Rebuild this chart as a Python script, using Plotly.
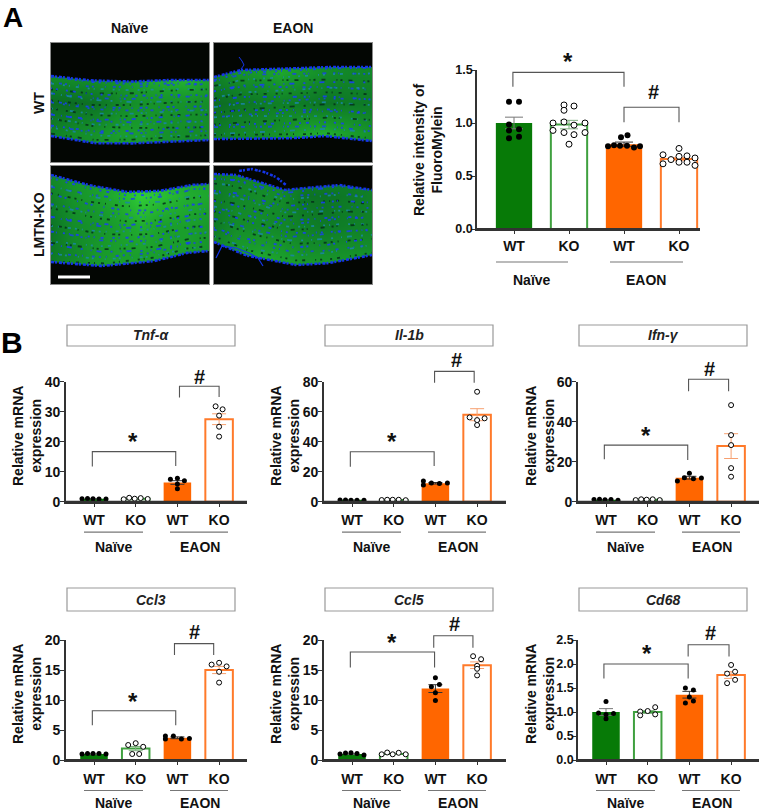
import numpy as np
import plotly.graph_objects as go

W, H = 762, 812
FONT = "Liberation Sans, Arial, sans-serif"
GREEN, ORANGE = "#077a07", "#ff6600"

# ---------- data: bar means / errors ----------
groups = ["WT", "KO", "WT", "KO"]
fluoro_mean = [1.0, 0.985, 0.80, 0.66]
fluoro_sem = [0.055, 0.04, 0.02, 0.015]
fluoro_wt_n = [1.2, 1.2, 0.985, 0.94, 0.93, 0.855, 0.87]
fluoro_ko_n = [1.17, 1.12, 1.16, 1.0, 1.01, 0.98, 1.0, 0.93, 0.91, 0.89, 0.91, 0.80]
fluoro_wt_e = [0.865, 0.885, 0.78, 0.79, 0.785, 0.785, 0.77, 0.78]
fluoro_ko_e = [0.70, 0.615, 0.655, 0.76, 0.685, 0.63, 0.69, 0.63, 0.67, 0.60]

tnf_mean = [1.0, 1.0, 6.4, 27.5]
tnf_sem = [0.05, 0.1, 0.6, 1.8]
tnf_pts = [[0.95, 1.1, 1.0, 0.9, 0.9], [0.8, 1.3, 1.0, 1.2, 0.9],
           [7.5, 7.8, 7.0, 5.9, 4.3], [31.8, 30.8, 28.7, 25.0, 21.7]]
il1b_mean = [1.0, 1.2, 12.3, 58.0]
il1b_sem = [0.05, 0.1, 0.5, 4.0]
il1b_pts = [[1.1, 1.1, 1.0, 1.0, 0.9], [1.1, 1.3, 1.3, 1.3, 1.0],
            [13.8, 11.1, 12.4, 12.2, 12.4], [73.3, 56.2, 54.4, 55.6, 51.1]]
ifng_mean = [1.0, 1.0, 12.0, 27.8]
ifng_sem = [0.08, 0.1, 0.7, 6.2]
ifng_pts = [[1.1, 1.2, 1.0, 1.1, 0.7], [0.8, 1.2, 1.0, 1.2, 0.8],
            [10.3, 12.0, 14.2, 11.5, 11.8], [48.3, 33.3, 28.3, 16.8, 12.5]]
ccl3_mean = [1.0, 1.9, 3.7, 15.0]
ccl3_sem = [0.03, 0.35, 0.15, 0.6]
ccl3_pts = [[1.0, 1.1, 1.1, 1.1, 1.0], [2.5, 2.8, 2.2, 1.0, 1.0],
            [4.0, 3.5, 4.0, 3.5, 3.6], [15.9, 16.2, 15.6, 14.7, 12.9]]
ccl5_mean = [1.0, 1.0, 11.9, 15.8]
ccl5_sem = [0.06, 0.06, 0.65, 0.55]
ccl5_pts = [[1.0, 1.15, 1.2, 1.1, 0.85], [0.95, 1.25, 0.95, 1.2, 0.95],
            [13.7, 12.6, 12.2, 11.2, 9.9], [17.3, 16.8, 15.7, 15.2, 14.1]]
cd68_mean = [1.0, 1.0, 1.36, 1.77]
cd68_sem = [0.07, 0.03, 0.07, 0.07]
cd68_pts = [[1.22, 0.98, 0.95, 0.97, 0.86], [1.01, 1.02, 1.10, 0.93, 0.95],
            [1.5, 1.46, 1.31, 1.19, 1.23], [1.98, 1.80, 1.84, 1.6, 1.67]]

# ---------- style: scatter spread in px ----------
row = [-12, -6.5, -1, 5, 12]
fluoro_off = [[-5, 5, -5, 5, -5, -5, 5],
              [-5, -5, 5, -16, -5, 5, 16, -16, -5, 5, 16, 0],
              [-3, 3.5, -16, -10, -4, 3, 10, 16],
              [-16, -16, -8, 0, 0, 0, 8, 8, 16, 16]]
tnf_off = [row, row, [-7, 0, 7, 0, 0], [-3.5, 3.5, 0, 0, 0]]
il1b_off = [row, row, [-12, -12, -4, 4, 12], [0, -7.5, 0, 7.5, 0]]
ifng_off = [row, row, [-12, -5, 0, 4, 12], [0, 0, 0, 0, 0]]
ccl3_off = [row, [-7.5, 0, 7.5, -3.5, 3.5], [-12, -12, -4, 4, 12], [-7.5, 0, 7.5, 0, 0]]
ccl5_off = [row, row, [0, 4, -4, 0, 0], [-4, 4, 0, 0, 0]]
cd68_off = [[0, -7.5, 0, 7.5, 0], [-7.5, 0, 7.5, -7.5, 7.5], [-4, 4, 0, -4, 4], [0, -4, 4, -4, 4]]

xf = lambda p: p / W
yf = lambda p: 1 - p / H

fig = go.Figure()
shapes, annos = [], []
layout_axes = {}
axis_n = [0]


def text(x, y, s, size=14, angle=0, italic=False, color="#111"):
    body = f"<b>{s}</b>"
    if italic:
        body = f"<i>{body}</i>"
    annos.append(dict(x=xf(x), y=yf(y), xref="paper", yref="paper", text=body, showarrow=False,
                      textangle=angle, xanchor="center", yanchor="middle",
                      font=dict(family=FONT, size=size, color=color)))


def new_axes(x0, x1, y_top, y_bot):
    axis_n[0] += 1
    n = axis_n[0]
    sfx = "" if n == 1 else str(n)
    return n, sfx, dict(domain=[xf(x0), xf(x1)], anchor=f"y{sfx}"), dict(domain=[yf(y_bot), yf(y_top)], anchor=f"x{sfx}")


def bar_panel(L, R, c0, s, y_bot, y_top, ymax, dtick, fmt, means, sems, pts, offs, brackets,
              star, sharp, ylab_x, ylab_y, ylab, tick_y, line_y, group_y, line_spans, group_xs,
              msize, title=None, box=None):
    n, sfx, xa, ya = new_axes(L, R, y_top, y_bot)
    xa.update(range=[(L - c0) / s, (R - c0) / s], tickmode="array", tickvals=[0, 1, 2, 3], ticktext=[f"<b>{g}</b>" for g in groups],
              showline=True, linecolor="#333", linewidth=1.6, ticks="outside", ticklen=3, tickwidth=1.2, tickcolor="#333",
              ticklabelstandoff=int(round(tick_y - y_bot - 18)), showgrid=False, zeroline=False,
              tickfont=dict(family=FONT, size=14, color="#111"))
    ya.update(range=[0, ymax], dtick=dtick, tickformat=fmt, showline=True, linecolor="#333", linewidth=1.6,
              ticks="outside", ticklen=4, tickwidth=1.4, tickcolor="#333", showgrid=False, zeroline=False,
              ticklabelstandoff=-4 if fmt != "d" else -3,
              tickprefix="<b>", ticksuffix="</b>", tickfont=dict(family=FONT, size=12.5 if fmt != "d" else 14, color="#111"))
    layout_axes[f"xaxis{sfx}"] = xa
    layout_axes[f"yaxis{sfx}"] = ya
    ax = dict(xaxis=f"x{sfx}", yaxis=f"y{sfx}", showlegend=False, hoverinfo="skip")
    fills = [GREEN, "white", ORANGE, "white"]
    edges = [GREEN, "#3fa03f", ORANGE, "#ff7a2a"]
    errs = ["#777", "#7faf7f", "#333", "#f7a070"]
    for k in range(4):
        fig.add_trace(go.Bar(x=[k], y=[means[k]], width=0.66, marker=dict(color=fills[k], line=dict(color=edges[k], width=2 if k % 2 else 0)),
                             error_y=dict(type="data", array=[sems[k]], color=errs[k], thickness=1, width=9 if msize > 5 else 7), **ax))
    for k in range(4):
        open_pt = k % 2 == 1
        fig.add_trace(go.Scatter(x=[k + o / s for o in offs[k]], y=pts[k], mode="markers", cliponaxis=False,
                                 marker=dict(size=msize, color="white" if open_pt else "black", line=dict(color="black", width=1 if open_pt else 0)), **ax))
    px_x = lambda v: c0 + v * s
    px_y = lambda v: y_bot - v / ymax * (y_bot - y_top)
    # baseline over the outlined bars' lower edges
    shapes.append(dict(type="line", xref="paper", yref="paper", layer="above", x0=xf(L), x1=xf(R), y0=yf(y_bot), y1=yf(y_bot),
                       line=dict(color="#333", width=1.8)))
    for xa0, ya0, xa1, yt, ya2 in brackets:
        path = (f"M {xf(px_x(xa0))} {yf(px_y(ya0))} L {xf(px_x(xa0))} {yf(px_y(yt))} "
                f"L {xf(px_x(xa1))} {yf(px_y(yt))} L {xf(px_x(xa1))} {yf(px_y(ya2))}")
        shapes.append(dict(type="path", xref="paper", yref="paper", path=path, line=dict(color="#555", width=1.1)))
    text(star[0], star[1] + 4, "*", 24)
    text(sharp[0], sharp[1], "#", 20)
    text(ylab_x, ylab_y, ylab, 14, -90)
    labels = ["Naïve", "EAON"]
    for i in range(2):
        shapes.append(dict(type="line", xref="paper", yref="paper", x0=xf(line_spans[i][0]), x1=xf(line_spans[i][1]),
                           y0=yf(line_y), y1=yf(line_y), line=dict(color="#777", width=1.2)))
        text(group_xs[i], group_y, labels[i], 14)
    if title:
        shapes.append(dict(type="rect", xref="paper", yref="paper", x0=xf(box[0]), x1=xf(box[1]), y0=yf(box[2]), y1=yf(box[3]),
                           line=dict(color="#999", width=1.2), fillcolor="white"))
        text((box[0] + box[1]) / 2, (box[2] + box[3]) / 2, title, 14, italic=True, color="#222")


YL = "Relative mRNA<br>expression"

bar_panel(477, 700, 514, 55, 229, 70, 1.5, 0.5, ".1f", fluoro_mean, fluoro_sem,
          [fluoro_wt_n, fluoro_ko_n, fluoro_wt_e, fluoro_ko_e], fluoro_off,
          [(-0.02, 1.343, 2.0, 1.478, 1.343), (2.0, 1.007, 3.0, 1.148, 1.007)],
          (568, 58), (653, 92), 428, 150, "Relative intensity of<br>FluoroMylein", 247, 262, 280,
          [(496, 568), (610, 683)], (532, 646), 6)

cols = [(66, 247, 94, 41.7), (324, 506, 352, 41.7), (578, 759, 606, 41.7)]
panels = [
    ("Tnf-α", 40, 10, "d", tnf_mean, tnf_sem, tnf_pts, tnf_off,
     [(-0.04, 11.7, 1.96, 16.7, 11.9), (2.05, 34.7, 3.0, 38.5, 34.9)], (133, 438), (199, 377)),
    ("Il-1b", 80, 20, "d", il1b_mean, il1b_sem, il1b_pts, il1b_off,
     [(-0.04, 23.3, 1.97, 33.3, 23.8), (1.98, 79.3, 2.93, 86.9, 79.3)], (392, 438), (456, 360)),
    ("Ifn-γ", 60, 20, "d", ifng_mean, ifng_sem, ifng_pts, ifng_off,
     [(-0.04, 21.2, 1.96, 28.3, 20.8), (1.98, 55.2, 2.94, 61.2, 55.2)], (646, 431), (709, 369)),
    ("Ccl3", 20, 5, "d", ccl3_mean, ccl3_sem, ccl3_pts, ccl3_off,
     [(-0.04, 5.8, 1.96, 8.2, 5.8), (1.93, 17.5, 2.87, 19.4, 17.5)], (133, 697), (194, 632)),
    ("Ccl5", 20, 5, "d", ccl5_mean, ccl5_sem, ccl5_pts, ccl5_off,
     [(-0.04, 15.4, 1.98, 18.0, 15.4), (1.96, 18.7, 2.9, 20.7, 18.7)], (392, 638), (454, 624)),
    ("Cd68", 2.5, 0.5, ".1f", cd68_mean, cd68_sem, cd68_pts, cd68_off,
     [(-0.05, 1.70, 1.97, 2.0, 1.70), (1.97, 2.155, 2.95, 2.40, 2.155)], (647, 649), (710, 633)),
]
boxes_y = [(325, 346), (588, 611)]
rows = [(501.7, 381.7), (760, 640)]
for i, p in enumerate(panels):
    r, c = divmod(i, 3)
    L, R, c0, s = cols[c]
    yb, yt = rows[r]
    bar_panel(L, R, c0, s, yb, yt, p[1], p[2], p[3], p[4], p[5], p[6], p[7], p[8], p[9], p[10],
              L - 39 + (1 if c == 2 else 0), 436 if r == 0 else 694, YL, yb + 19.5, yb + 30.5, yb + (45.5 if r == 0 else 42.5),
              [(L + 18, L + 77), (L + 104, L + 162)], (L + 48, L + 134), 5, title=p[0],
              box=(L + 1, L + 169, *boxes_y[r]))

# ---------- micrographs: outlines ----------
img_x = [0, 22, 45, 67, 90, 112, 135, 158]
img_y = [0, 30, 60, 90, 119]
images = [
    dict(rect=(51, 209, 43, 162),
         top=([0, 32, 75, 108, 158], [33, 37, 39, 37, 37]),
         bot=([0, 40, 75, 108, 158], [93, 100, 100.7, 99, 97]),
         z=[[.5, .5, .5, .5, .6, .6, .6, .6],
            [.55, .6, .6, .65, .75, .85, .9, .75],
            [.3, .3, .35, .5, .6, .6, .6, .55],
            [.45, .55, .6, .7, .7, .6, .55, .55],
            [.5, .5, .6, .6, .6, .6, .6, .6]],
         levels=[.04, .09, .14, .19, .23, .28, .33, .38, .43, .47, .52, .56, .61, .66, .7, .75, .8, .84, .89, .94]),
    dict(rect=(214, 372, 43, 162),
         top=([0, 25, 70, 110, 158], [34, 27, 26, 24, 24]),
         bot=([0, 30, 85, 110, 158], [96, 96, 95, 93, 98]),
         z=[[.5, .6, .65, .65, .65, .55, .5, .5],
            [.45, .6, .65, .75, .65, .55, .5, .5],
            [.3, .35, .4, .45, .4, .35, .4, .4],
            [.4, .5, .55, .6, .75, .8, .7, .6],
            [.4, .4, .5, .6, .7, .6, .5, .5]],
         levels=[.03, .08, .12, .17, .22, .27, .31, .36, .41, .46, .5, .55, .6, .64, .69, .74, .79, .84, .9, .95]),
    dict(rect=(51, 209, 166, 284),
         top=([0, 32, 75, 108, 140, 158], [9, 18, 26, 25, 19, 18]),
         bot=([0, 50, 100, 135, 158], [96, 100, 96, 87, 85]),
         z=[[.55, .65, .7, .75, .8, .8, .7, .7],
            [.45, .6, .7, .8, 1.0, .9, .8, .75],
            [.35, .55, .6, .7, .8, .7, .7, .65],
            [.4, .5, .65, .7, .7, .7, .7, .6],
            [.5, .6, .7, .75, .75, .6, .6, .6]],
         levels=[.05, .1, .15, .2, .26, .31, .36, .41, .46, .5, .55, .6, .64, .69, .74, .79, .83, .88, .92, .96]),
    dict(rect=(214, 372, 166, 284),
         top=([0, 22, 45, 70, 100, 125, 158], [8, 9, 16, 24, 21, 19, 24]),
         bot=([0, 30, 80, 110, 158], [76, 89, 99, 98, 89]),
         z=[[.4, .45, .5, .55, .5, .5, .45, .45],
            [.4, .5, .55, .55, .35, .35, .4, .45],
            [.4, .55, .55, .5, .45, .4, .45, .45],
            [.55, .7, .75, .7, .6, .6, .6, .6],
            [.6, .8, .85, .85, .8, .75, .7, .7]],
         levels=[.04, .09, .13, .18, .22, .27, .31, .36, .41, .46, .5, .54, .58, .63, .68, .72, .77, .83, .88, .94]),
]
# stray fibres and debris in the EAON micrographs
fibre_wt_eaon = ([25, 28, 30, 27], [14, 18, 22, 26])
debris_ko_eaon = ([25, 38, 50, 62, 72], [5, 3, 6, 11, 19])
fibre_ko_eaon = ([2, 8, 22, 35, 44, 49], [92, 80, 82, 87, 92, 100])
scale_bar = ([7, 39], [111, 111])

cscale = [[0, "#07401a"], [0.4, "#0e7a26"], [0.7, "#1a9e2c"], [1, "#30cc36"]]
dash_cycle = ["2px,5px,1px,9px,3px,4px", "1px,7px,3px,3px,2px,11px", "3px,9px,2px,4px,1px,6px",
              "2px,3px,1px,13px,4px,7px", "1px,4px,2px,8px,2px,5px,3px,10px", "4px,11px,1px,3px,2px,6px",
              "2px,8px,1px,5px,5px,9px"]
speck_colours = ["#1a3cff", "#1a44e8", "#1a86a8", "#04301a"]
streak_tilts = [.03, -.02, .015, -.035, .025, -.01, .04, -.025, .01]
for idx, im in enumerate(images):
    x0, x1, y0, y1 = im["rect"]
    n, sfx, xa, ya = new_axes(x0, x1, y0, y1)
    xa.update(range=[0, x1 - x0], visible=True, showticklabels=False, ticks="", showgrid=False, zeroline=False,
              showline=True, mirror=True, linecolor="#8a8a8a", linewidth=1)
    ya.update(range=[y1 - y0, 0], visible=True, showticklabels=False, ticks="", showgrid=False, zeroline=False,
              showline=True, mirror=True, linecolor="#8a8a8a", linewidth=1)
    layout_axes[f"xaxis{sfx}"] = xa
    layout_axes[f"yaxis{sfx}"] = ya
    ax = dict(xaxis=f"x{sfx}", yaxis=f"y{sfx}", showlegend=False, hoverinfo="skip")
    fig.add_trace(go.Heatmap(x=img_x, y=img_y, z=im["z"], zmin=0, zmax=1, zsmooth="best", colorscale=cscale, showscale=False, **ax))
    xs = np.linspace(0, x1 - x0, 30)
    tp = np.interp(xs, *im["top"])
    bt = np.interp(xs, *im["bot"])
    h = y1 - y0
    for j, f in enumerate(im["levels"]):
        tilt = streak_tilts[(j + idx) % len(streak_tilts)]
        ys = tp + (f + tilt * (xs - 79) / 79) * (bt - tp)
        fig.add_trace(go.Scatter(x=xs, y=ys, mode="lines", opacity=0.85,
                                 line=dict(color=speck_colours[j % 4], width=1.8, dash=dash_cycle[(j + idx * 2) % 7]), **ax))
    fig.add_trace(go.Scatter(x=list(xs) + [x1 - x0, 0], y=list(tp) + [0, 0], mode="lines", fill="toself",
                             fillcolor="#030603", line=dict(width=0), **ax))
    fig.add_trace(go.Scatter(x=list(xs) + [x1 - x0, 0], y=list(bt) + [h, h], mode="lines", fill="toself",
                             fillcolor="#030603", line=dict(width=0), **ax))
    for edge in (tp, bt):
        fig.add_trace(go.Scatter(x=xs, y=edge, mode="lines", line=dict(color="#1535e8", width=2.6, dash="3px,1px,2px,2px"), **ax))
    if idx == 1:
        fig.add_trace(go.Scatter(x=fibre_wt_eaon[0], y=fibre_wt_eaon[1], mode="lines", line=dict(color="#1535e8", width=1), **ax))
    if idx == 3:
        fig.add_trace(go.Scatter(x=debris_ko_eaon[0], y=debris_ko_eaon[1], mode="lines", line=dict(color="#1535e8", width=2.5, dash="3px,1px,2px,2px"), **ax))
        fig.add_trace(go.Scatter(x=fibre_ko_eaon[0], y=fibre_ko_eaon[1], mode="lines", line=dict(color="#1535e8", width=1.2), **ax))
    if idx == 2:
        fig.add_trace(go.Scatter(x=scale_bar[0], y=scale_bar[1], mode="lines", line=dict(color="white", width=3), **ax))

text(13, 17, "A", 28, color="black")
text(12, 342, "B", 30, color="black")
text(130, 28, "Naïve")
text(293, 28, "EAON")
text(39, 103, "WT", 14, -90)
text(39, 225, "LMTN-KO", 14, -90)

fig.update_layout(width=W, height=H, margin=dict(l=0, r=0, t=0, b=0, autoexpand=False), paper_bgcolor="white", plot_bgcolor="white",
                  barmode="overlay", shapes=shapes, annotations=annos, showlegend=False, **layout_axes)
fig.write_html("out.html", config={"displayModeBar": False},
               post_script="document.body.style.margin='0';document.documentElement.style.overflow='hidden';")
